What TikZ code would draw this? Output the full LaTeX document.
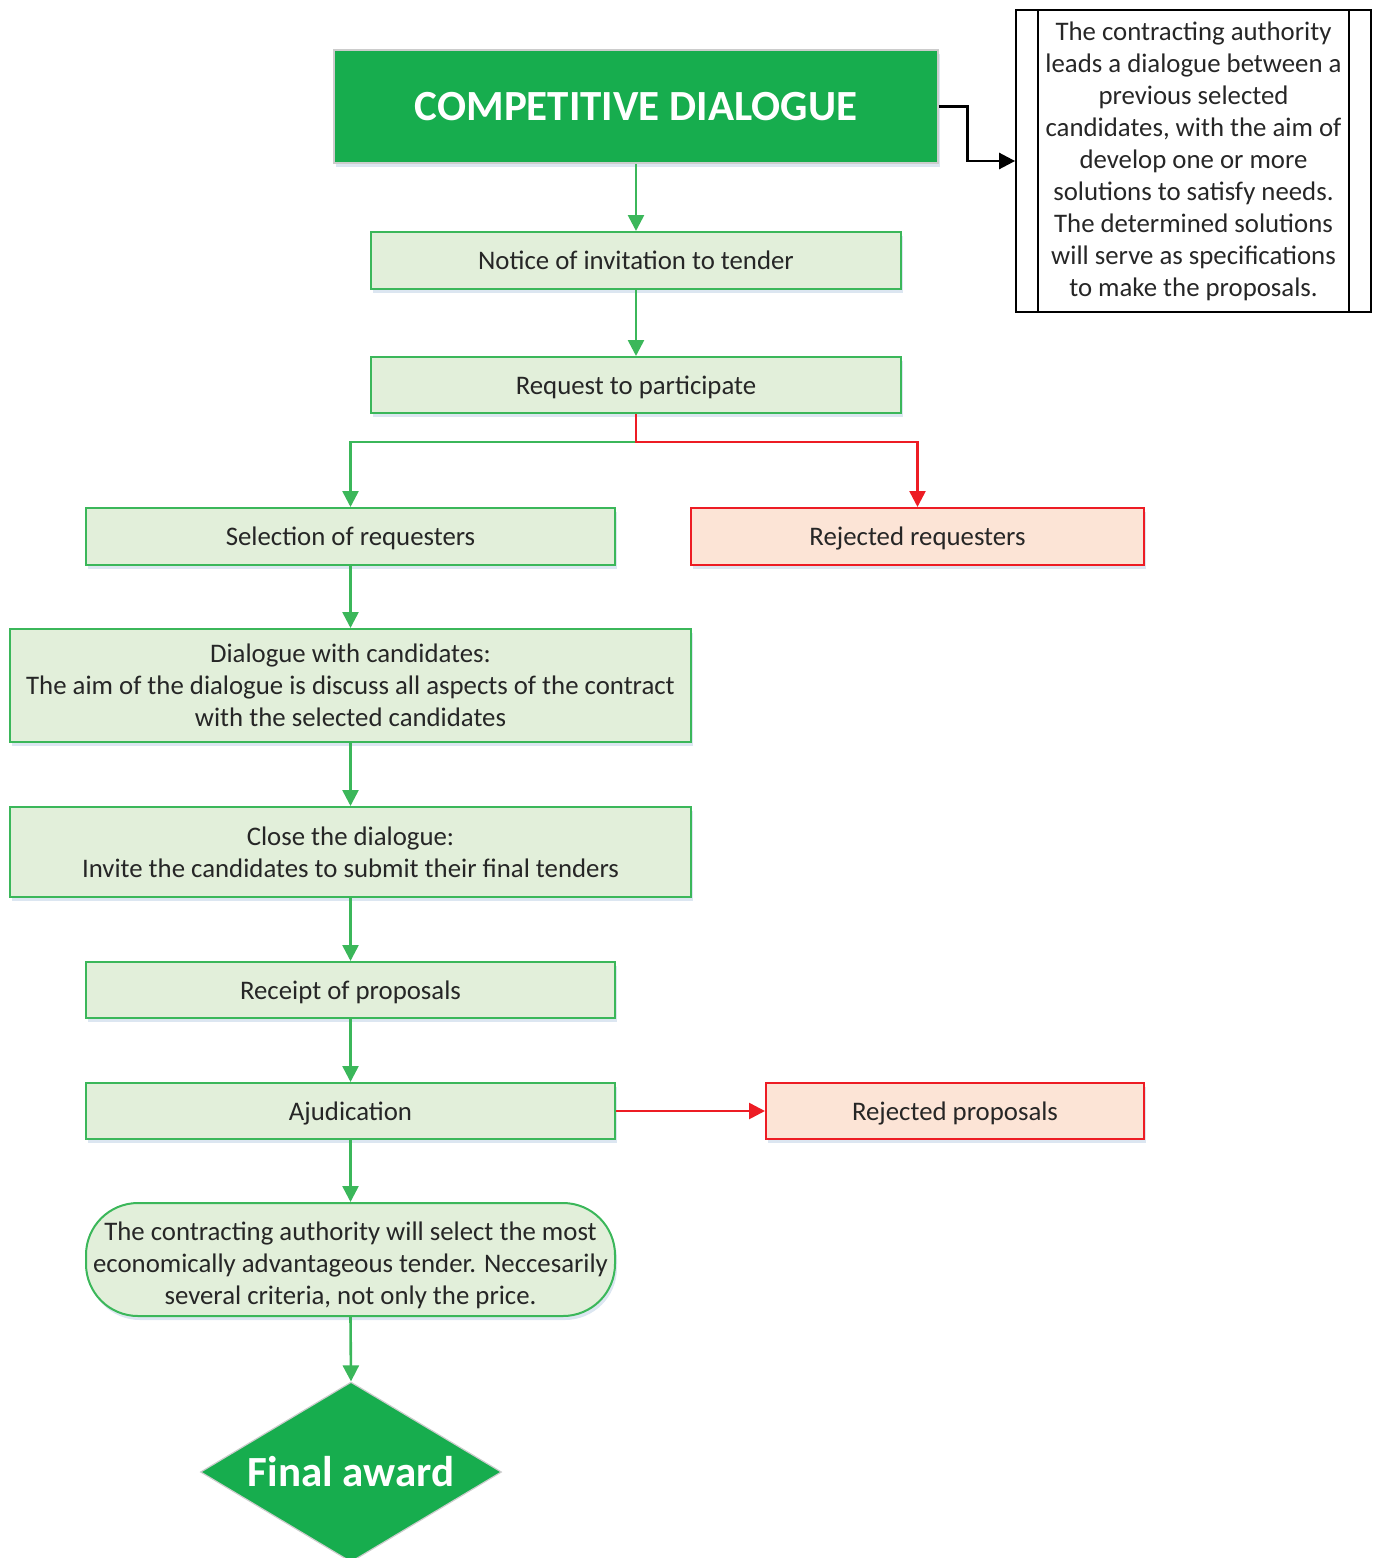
\documentclass[tikz,border=0pt]{standalone}
\usepackage{fontspec}
\setmainfont{Carlito}
\usetikzlibrary{arrows.meta,shapes.geometric,shadows}
\definecolor{titlegreen}{HTML}{17AD4E}
\definecolor{linegreen}{HTML}{3BB75A}
\definecolor{palegreen}{HTML}{E2EFDA}
\definecolor{rejred}{HTML}{ED1C24}
\definecolor{peach}{HTML}{FCE4D6}
\definecolor{ink}{HTML}{262626}
\definecolor{shade}{HTML}{DCE6F1}
\newcommand{\bodyfont}{\fontsize{13.4}{16}\selectfont}
\newcommand{\headfont}{\fontsize{21.5}{25}\selectfont\bfseries}
\begin{document}
\begin{tikzpicture}[x=0.5pt,y=-0.5pt,
  soft/.style={drop shadow={shadow xshift=1pt,shadow yshift=-2pt,fill=shade,opacity=1}},
  stepbox/.style={draw=linegreen,line width=1pt,fill=palegreen,text=ink,font=\bodyfont,
    align=center,inner sep=0pt,soft},
  oneline/.style={text height=12pt,text depth=3pt},
  rejbox/.style={stepbox,draw=rejred,fill=peach},
  flow/.style={draw=linegreen,line width=1.3pt,-{Triangle[length=8pt,width=8pt]}},
  rejflow/.style={flow,draw=rejred},
  noteflow/.style={flow,draw=black}]
\useasboundingbox (0,0) rectangle (1381,1558);

% heading
\node (title) [fill=titlegreen,draw=black!20,line width=0.6pt,soft,text=white,font=\headfont,
  minimum width=302pt,minimum height=56.5pt,inner sep=0pt] at (636,106.5) {COMPETITIVE DIALOGUE};

% side note with double vertical bars
\node (note) [draw=black,line width=0.9pt,text=ink,font=\bodyfont,align=center,
  minimum width=177.5pt,minimum height=151pt,inner sep=0pt] at (1193.5,161)
  {The contracting authority\\leads a dialogue between a\\previous selected\\candidates, with the aim of\\develop one or more\\solutions to satisfy needs.\\The determined solutions\\will serve as specifications\\to make the proposals.};
\draw[line width=0.9pt] ([xshift=11.5pt]note.north west) -- ([xshift=11.5pt]note.south west);
\draw[line width=0.9pt] ([xshift=-11.5pt]note.north east) -- ([xshift=-11.5pt]note.south east);

% process steps
\node (notice) [stepbox,oneline,minimum width=265pt,minimum height=28.5pt] at (636,260.5) {Notice of invitation to tender};
\node (request) [stepbox,oneline,minimum width=265pt,minimum height=28pt] at (636,385) {Request to participate};
\node (select) [stepbox,oneline,minimum width=264.5pt,minimum height=28.5pt] at (350.5,536.5) {Selection of requesters};
\node (rejreq) [rejbox,oneline,minimum width=226.5pt,minimum height=28.5pt] at (917.5,536.5) {Rejected requesters};
\node (dialog) [stepbox,minimum width=340.5pt,minimum height=56.5pt] at (350.5,685.5)
  {Dialogue with candidates:\\The aim of the dialogue is discuss all aspects of the contract\\with the selected candidates};
\node (close) [stepbox,minimum width=340.5pt,minimum height=45pt] at (350.5,852)
  {Close the dialogue:\\Invite the candidates to submit their final tenders};
\node (receipt) [stepbox,oneline,minimum width=264.5pt,minimum height=28pt] at (350.5,990) {Receipt of proposals};
\node (adjud) [stepbox,oneline,minimum width=264.5pt,minimum height=28pt] at (350.5,1111) {Ajudication};
\node (rejprop) [rejbox,oneline,minimum width=189pt,minimum height=28pt] at (955,1111) {Rejected proposals};
\node (choice) [stepbox,rounded corners=26pt,minimum width=264.5pt,minimum height=56.5pt] at (350.5,1259.5)
  {\rule{0pt}{15pt}The contracting authority will select the most\\economically advantageous tender. Neccesarily\\several criteria, not only the price.};
\node (award) [diamond,fill=titlegreen,draw=black!20,line width=0.6pt,
  minimum width=150.5pt,minimum height=90pt,inner sep=0pt] at (351,1472) {};
\node (awardtext) [text=white,font=\headfont,inner sep=0pt] at (award.center) {Final award};

% connectors
\draw[noteflow] (title.east) -- ++(29,0) |- (note.west);
\draw[flow] (title.south) -- (notice.north);
\draw[flow] (notice.south) -- (request.north);
\draw[flow] (request.south) -- ++(0,28) -| (select.north);
\draw[rejflow] (request.south) -- ++(0,28) -| (rejreq.north);
\draw[flow] (select.south) -- (dialog.north);
\draw[flow] (dialog.south) -- (close.north);
\draw[flow] (close.south) -- (receipt.north);
\draw[flow] (receipt.south) -- (adjud.north);
\draw[rejflow] (adjud.east) -- (rejprop.west);
\draw[flow] (adjud.south) -- (choice.north);
\draw[flow] (choice.south) -- (award.north);
\end{tikzpicture}
\end{document}
